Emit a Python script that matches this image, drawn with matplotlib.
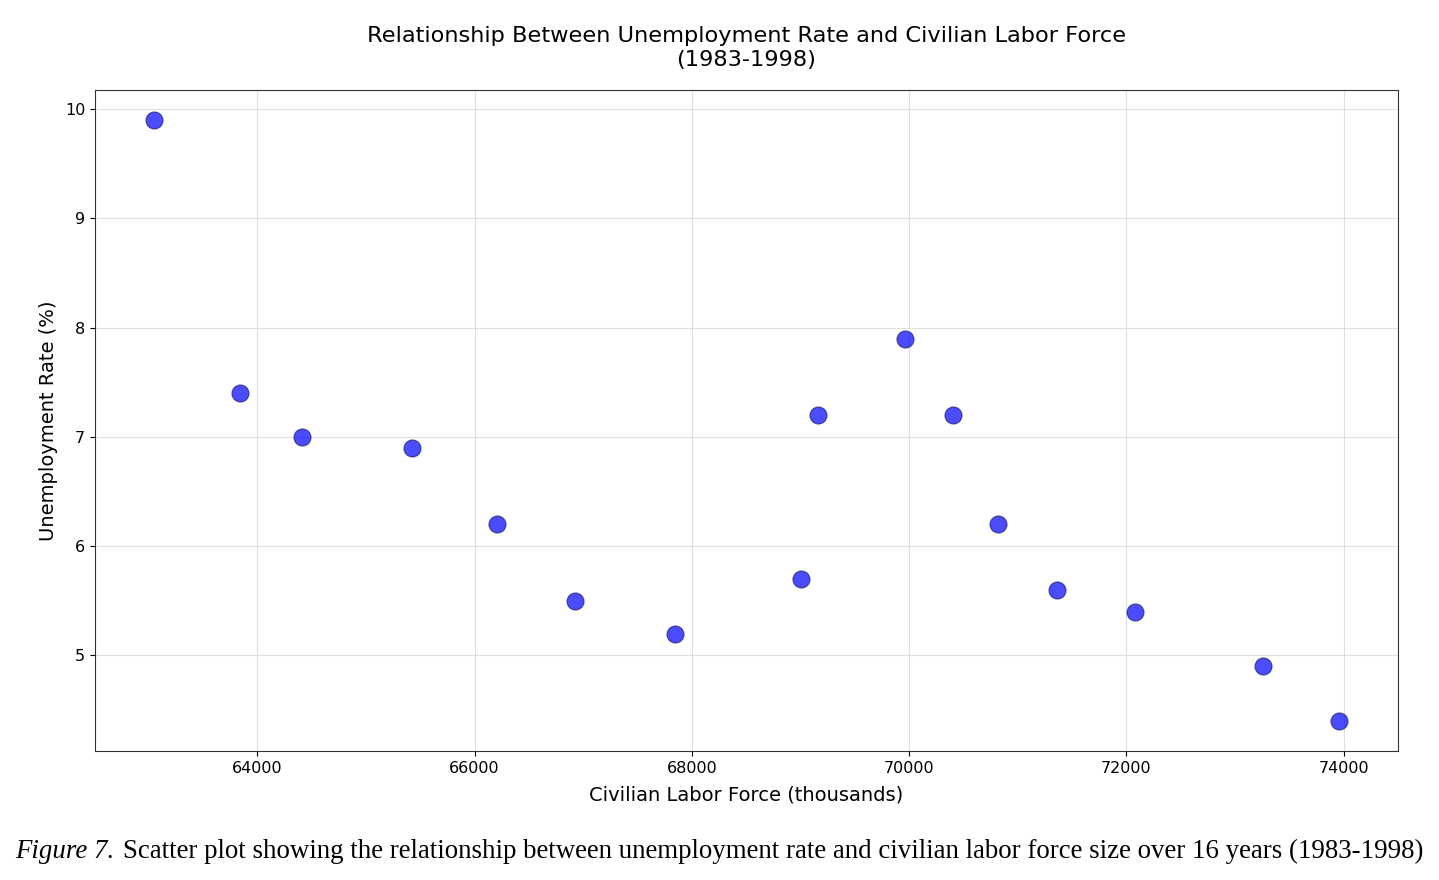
import matplotlib.pyplot as plt

# civilian labor force (thousands) and unemployment rate (%), 1983-1998
labor_force = [63052, 63844, 64414, 65426, 66208, 66925, 67845, 69005,
               69161, 69961, 70403, 70817, 71360, 72077, 73255, 73954]
unemployment = [9.9, 7.4, 7.0, 6.9, 6.2, 5.5, 5.2, 5.7,
                7.2, 7.9, 7.2, 6.2, 5.6, 5.4, 4.9, 4.4]

fig = plt.figure(figsize=(14.39, 8.8), dpi=100)
ax = fig.add_axes([0.066, 0.1466, 0.9055, 0.7511])

ax.scatter(labor_force, unemployment, s=150, color='blue', alpha=0.7,
           edgecolors='#1a1a5e', linewidths=0.8, zorder=3)

ax.set_title("Relationship Between Unemployment Rate and Civilian Labor Force\n(1983-1998)",
             fontsize=16.2, pad=17, linespacing=1.25)
ax.set_xlabel("Civilian Labor Force (thousands)", fontsize=14, labelpad=7)
ax.set_ylabel("Unemployment Rate (%)", fontsize=14, labelpad=5)
ax.tick_params(labelsize=11.5)
ax.grid(True, color='#d8d8d8', linewidth=0.8, alpha=0.8)
for sp in ax.spines.values():
    sp.set_color('#333333')

# caption under the chart
t1 = fig.text(0.0104, 0.025, "Figure 7.", fontsize=19.4,
              family='Liberation Serif', style='italic', va='baseline')
ax.annotate("Scatter plot showing the relationship between unemployment rate and civilian labor force size over 16 years (1983-1998)",
            xy=(1, 0), xycoords=t1, xytext=(6, 0), textcoords='offset points',
            fontsize=19.4, family='Liberation Serif', va='bottom',
            annotation_clip=False)

fig.savefig('out.png', dpi=100)
